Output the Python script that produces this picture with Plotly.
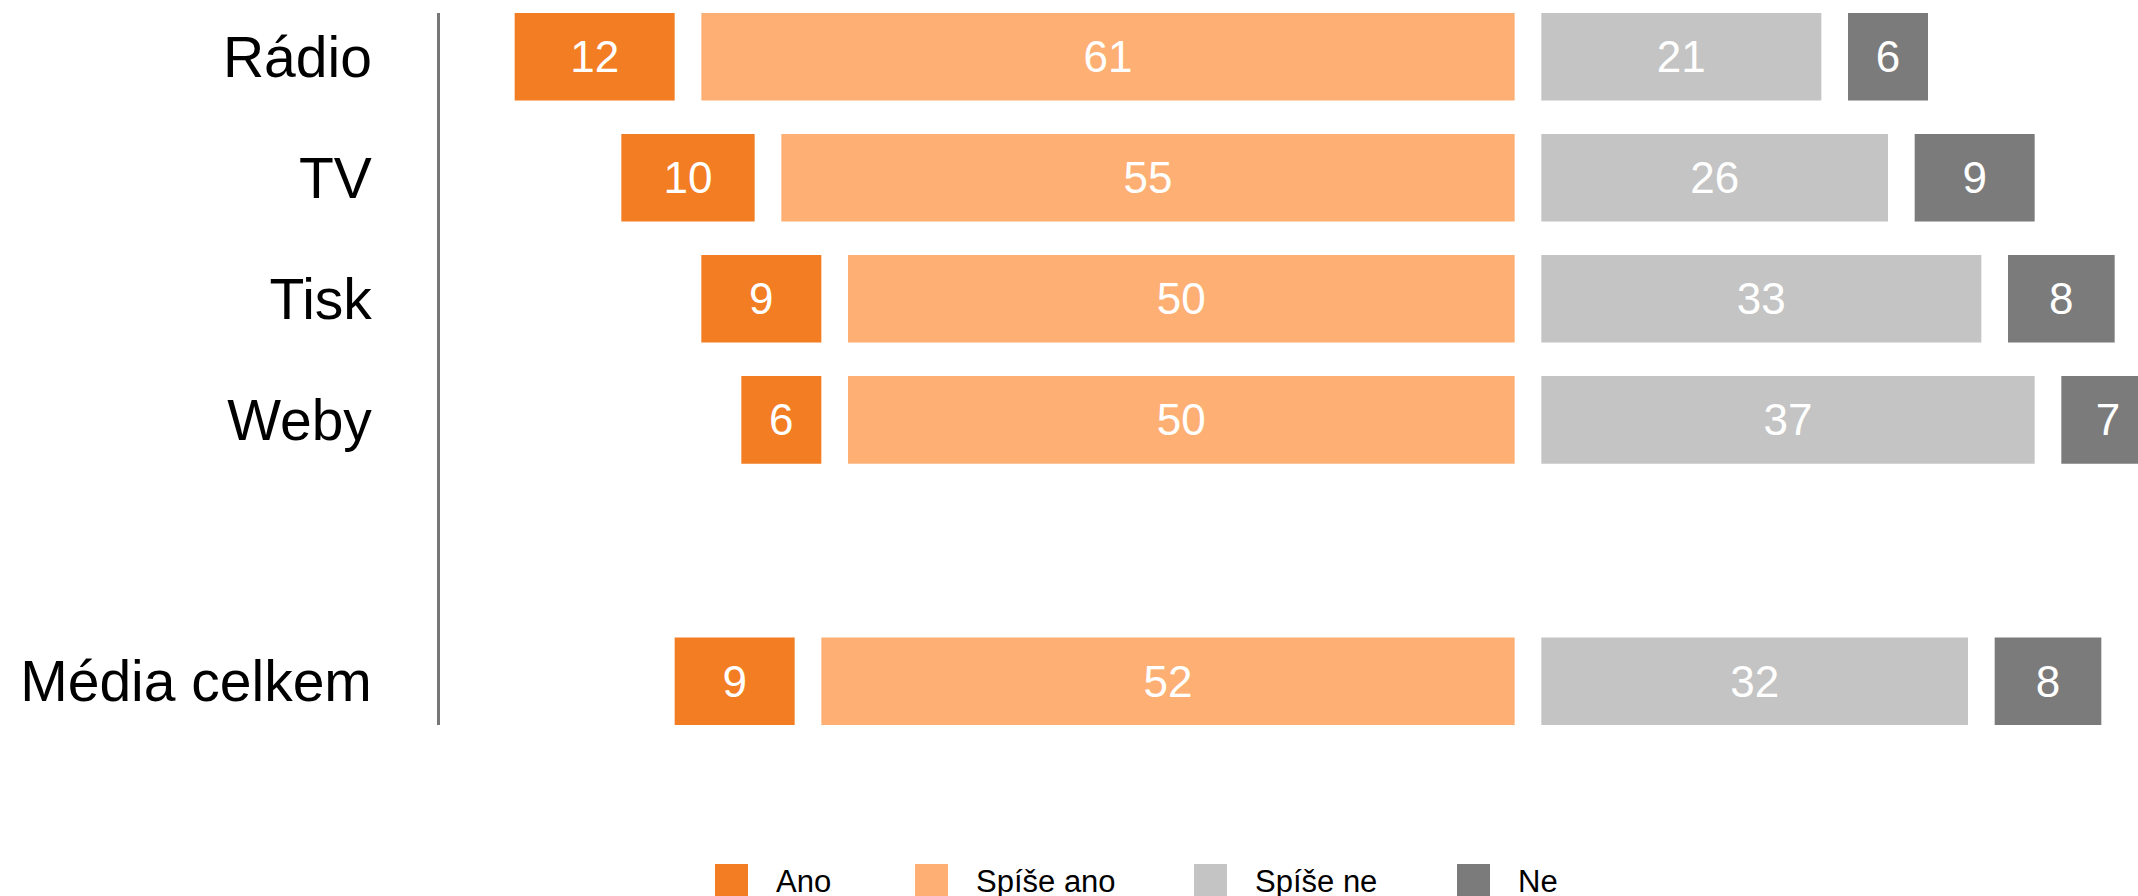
import plotly.graph_objects as go

# data
media = ["Rádio", "TV", "Tisk", "Weby", "Média celkem"]
ano = [12, 10, 9, 6, 9]
spise_ano = [61, 55, 50, 50, 52]
spise_ne = [21, 26, 33, 37, 32]
ne = [6, 9, 8, 7, 8]

series = ["Ano", "Spíše ano", "Spíše ne", "Ne"]
colors = ["#F37D22", "#FEB074", "#C4C4C4", "#7B7B7B"]

# layout helpers
row_pos = [0, 1, 2, 3, 5.16]   # extra gap before the total row
gap = 2                        # white space between segments (pct points)
W, H = 2138, 896
ML, MR, MT, MB = 440, 0, 13, 171
FONT = "Liberation Sans, Arial, Helvetica, sans-serif"

# bases: agreement to the left of zero, disagreement to the right
base_sa = [-gap / 2 - v for v in spise_ano]
base_a = [b - gap - v for b, v in zip(base_sa, ano)]
base_sn = [gap / 2 for _ in media]
base_n = [gap / 2 + v + gap for v in spise_ne]

fig = go.Figure()
for name, vals, base, clr in zip(series,
                                 [ano, spise_ano, spise_ne, ne],
                                 [base_a, base_sa, base_sn, base_n],
                                 colors):
    fig.add_trace(go.Bar(
        name=name,
        y=row_pos,
        x=vals,
        base=base,
        orientation="h",
        width=0.724,
        marker=dict(color=clr, line=dict(width=0)),
        text=[str(v) for v in vals],
        textposition="inside",
        insidetextanchor="middle",
        constraintext="none",
        textangle=0,
        textfont=dict(family=FONT, size=44, color="white"),
        showlegend=False,
        hoverinfo="skip",
    ))


def px_x(px):
    return (px - ML) / (W - ML - MR)


def px_y(py):
    return (H - MB - py) / (H - MB - MT)


# legend drawn by hand so the swatches can be large
leg_x = [715, 915, 1194, 1457]
for name, clr, lx in zip(series, colors, leg_x):
    fig.add_shape(type="rect", xref="paper", yref="paper",
                  x0=px_x(lx), x1=px_x(lx + 33),
                  y0=px_y(864), y1=px_y(910),
                  fillcolor=clr, line=dict(width=0))
    fig.add_annotation(xref="paper", yref="paper",
                       x=px_x(lx + 59), y=px_y(881),
                       xanchor="left", yanchor="middle",
                       text=name, showarrow=False,
                       font=dict(family=FONT, size=31, color="black"))

fig.update_layout(
    width=W, height=H,
    margin=dict(l=ML, r=MR, t=MT, b=MB, pad=0),
    barmode="overlay",
    plot_bgcolor="white",
    paper_bgcolor="white",
    font=dict(family=FONT),
    xaxis=dict(range=[-81.6, 45.75], visible=False, fixedrange=True),
    yaxis=dict(
        range=[5.16 + 0.362, -0.362],
        tickvals=row_pos,
        ticktext=media,
        ticks="",
        showgrid=False,
        zeroline=False,
        showline=True,
        linecolor="#777777",
        linewidth=2.5,
        ticklabelstandoff=54,
        tickfont=dict(family=FONT, size=57, color="black"),
    ),
)

fig.write_html("out.html", config={"displayModeBar": False},
               post_script="document.body.style.margin='0';")
